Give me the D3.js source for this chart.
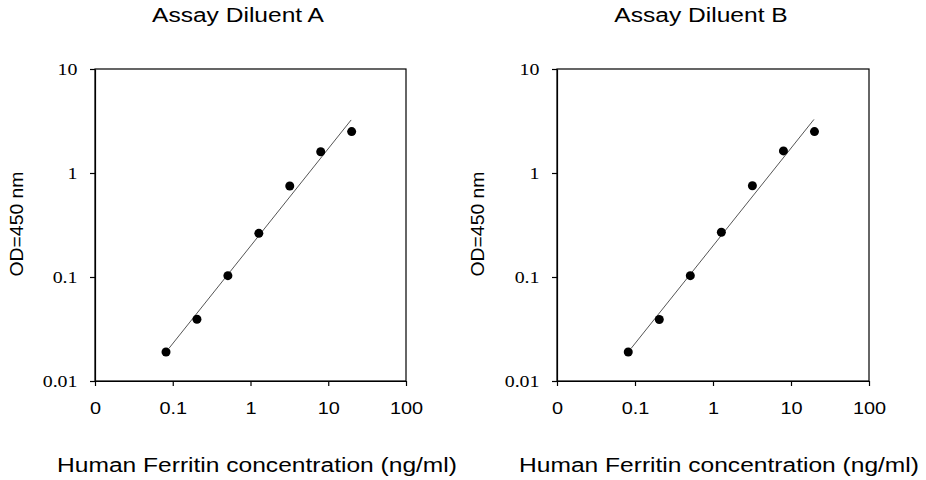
<!DOCTYPE html>
<html>
<head>
<meta charset="utf-8">
<script src="https://cdn.jsdelivr.net/npm/d3@7"></script>
<style>
  html, body { margin: 0; padding: 0; background: #fff; }
  svg { display: block; }
</style>
</head>
<body>
<svg id="chart" width="926" height="480"></svg>
<script>
// ---- data ----
const titles = ["Assay Diluent A", "Assay Diluent B"];
const concentration = [0.08192, 0.2048, 0.512, 1.28, 3.2, 8, 20];
const odA = [0.019, 0.0392, 0.103, 0.263, 0.75, 1.60, 2.50];
const odB = [0.019, 0.039, 0.103, 0.269, 0.755, 1.63, 2.50];
const fitRange = [0.09, 19.7];
const xTickValues = [0.01, 0.1, 1, 10, 100];
const xTickLabels = ["0", "0.1", "1", "10", "100"];
const yTickValues = [0.01, 0.1, 1, 10];
const yTickLabels = ["0.01", "0.1", "1", "10"];
const xTitle = "Human Ferritin concentration (ng/ml)";
const yTitle = "OD=450 nm";

// ---- layout ----
const SX = 1.17; // horizontal stretch of the reference text
const panels = [
  { title: titles[0], od: odA, left: 95, right: 406, titleX: 238, xLabX: 257, yLabX: 22.5 },
  { title: titles[1], od: odB, left: 557, right: 869, titleX: 701, xLabX: 719, yLabX: 484 }
];
const plotTop = 69, plotBottom = 381;
const sans = "'Liberation Sans', Arial, sans-serif";
const serif = "'Liberation Serif', 'Times New Roman', serif";

const svg = d3.select("#chart");

function powerFit(xs, ys) {
  const lx = xs.map(Math.log10), ly = ys.map(Math.log10);
  const mx = d3.mean(lx), my = d3.mean(ly);
  let sxy = 0, sxx = 0;
  lx.forEach((v, i) => { sxy += (v - mx) * (ly[i] - my); sxx += (v - mx) * (v - mx); });
  const b = sxy / sxx, a = my - b * mx;
  return x => Math.pow(10, a + b * Math.log10(x));
}

panels.forEach(p => {
  const x = d3.scaleLog().domain([0.01, 100]).range([p.left, p.right]);
  const y = d3.scaleLog().domain([0.01, 10]).range([plotBottom, plotTop]);
  const g = svg.append("g");

  // frame
  g.append("rect")
    .attr("x", p.left).attr("y", plotTop)
    .attr("width", p.right - p.left).attr("height", plotBottom - plotTop)
    .attr("fill", "none").attr("stroke", "#000").attr("stroke-width", 1.2);

  // x axis
  const xa = g.append("g").attr("transform", `translate(0,${plotBottom})`)
    .call(d3.axisBottom(x).tickValues(xTickValues).tickSize(5).tickSizeOuter(0)
      .tickFormat((d, i) => xTickLabels[i]));
  xa.select(".domain").attr("stroke-width", 1.2);
  xa.selectAll(".tick line").attr("stroke-width", 1.2);
  xa.selectAll(".tick text")
    .attr("font-family", sans).attr("font-size", 17).attr("fill", "#000")
    .attr("y", 0).attr("dy", 0)
    .attr("transform", `translate(0,33) scale(${SX},1)`);

  // y axis
  const ya = g.append("g").attr("transform", `translate(${p.left},0)`)
    .call(d3.axisLeft(y).tickValues(yTickValues).tickSize(5).tickSizeOuter(0)
      .tickFormat((d, i) => yTickLabels[i]));
  ya.select(".domain").attr("stroke-width", 1.2);
  ya.selectAll(".tick line").attr("stroke-width", 1.2);
  ya.selectAll(".tick text")
    .attr("font-family", serif).attr("font-size", 17).attr("fill", "#000")
    .attr("x", 0).attr("dy", "0.34em")
    .attr("transform", `translate(-17.5,0) scale(${SX},1)`);

  // fit line
  const f = powerFit(concentration, p.od);
  g.append("line")
    .attr("x1", x(fitRange[0])).attr("y1", y(f(fitRange[0])))
    .attr("x2", x(fitRange[1])).attr("y2", y(f(fitRange[1])))
    .attr("stroke", "#555").attr("stroke-width", 1);

  // points
  g.selectAll("circle.pt").data(concentration).join("circle")
    .attr("class", "pt")
    .attr("cx", d => x(d))
    .attr("cy", (d, i) => y(p.od[i]))
    .attr("r", 4.5).attr("fill", "#000");

  // title
  g.append("text")
    .attr("transform", `translate(${p.titleX},22) scale(${SX},1)`)
    .attr("text-anchor", "middle")
    .attr("font-family", sans).attr("font-size", 21).attr("fill", "#000")
    .text(p.title);

  // x label
  g.append("text")
    .attr("transform", `translate(${p.xLabX},472) scale(${SX},1)`)
    .attr("text-anchor", "middle")
    .attr("font-family", sans).attr("font-size", 21).attr("fill", "#000")
    .text(xTitle);

  // y label
  g.append("text")
    .attr("transform", `translate(${p.yLabX},224) rotate(-90)`)
    .attr("text-anchor", "middle")
    .attr("font-family", sans).attr("font-size", 18.5).attr("fill", "#000")
    .attr("textLength", 105).attr("lengthAdjust", "spacingAndGlyphs")
    .text(yTitle);
});
</script>
</body>
</html>
